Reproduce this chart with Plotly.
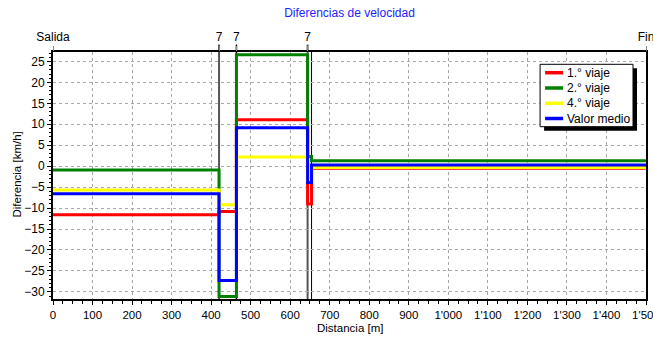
import plotly.graph_objects as go

# ---- data ----
breaks = [0, 420, 464, 644, 654, 1500]
viaje1 = [-11.6, -10.8, 11.1, -9.0, -0.5]
viaje2 = [-0.9, -31.1, 26.6, 2.3, 1.3]
viaje4 = [-5.7, -9.2, 2.2, -3.5, -0.3]
medio = [-6.6, -27.3, 9.2, -3.9, 0.3]
series_names = ["1.° viaje", "2.° viaje", "4.° viaje", "Valor medio"]
series_values = [viaje1, viaje2, viaje4, medio]
colors = ["#ff0000", "#008000", "#ffff00", "#0000ff"]

x_tickvals = list(range(0, 1501, 100))
x_ticktext = ["0", "100", "200", "300", "400", "500", "600", "700", "800", "900",
              "1'000", "1'100", "1'200", "1'300", "1'400", "1'500"]
y_tickvals = [25, 20, 15, 10, 5, 0, -5, -10, -15, -20, -25, -30]
top_tickvals = [0, 420, 464, 644, 1500]
top_ticktext = ["Salida", "7", "7", "7", "Fin"]
marker_pos = [420, 464, 644, 654]
marker_colors = ["#555555", "#000000", "#555555", "#000000"]
marker_widths = [2, 1.5, 2, 1]
marker_top = [1.03, 1.03, 1.03, 1.0]

FONT = "Liberation Sans, Arial, sans-serif"
W, H = 653, 338
L, R, T, B = 52.5, 7, 52, 39
PW, PH = W - L - R, H - T - B

fig = go.Figure()
for name, vals, col in zip(series_names, series_values, colors):
    fig.add_trace(go.Scatter(
        x=breaks, y=vals + [vals[-1]], name=name, mode="lines",
        line=dict(color=col, width=3, shape="hv"), showlegend=False,
    ))
# invisible trace to activate top axis
fig.add_trace(go.Scatter(x=[breaks[0], breaks[-1]], y=[0, 0], xaxis="x2",
                         mode="lines", line=dict(width=0), showlegend=False,
                         hoverinfo="skip"))

shapes = []
for xp, c, w, top in zip(marker_pos, marker_colors, marker_widths, marker_top):
    shapes.append(dict(type="line", xref="x", yref="paper", x0=xp, x1=xp,
                       y0=0, y1=top, line=dict(color=c, width=w), layer="between"))

# manual legend (pixel -> paper)
def px(xv):
    return (xv - L) / PW
def py(yv):
    return (H - B - yv) / PH

bx0, bx1, by0, by1 = 540, 633, 64.3, 126.7
shapes.append(dict(type="rect", xref="paper", yref="paper",
                   x0=px(bx0 + 4), x1=px(bx1 + 4), y0=py(by1 + 4), y1=py(by0 + 4),
                   fillcolor="black", line=dict(width=0), layer="above"))
shapes.append(dict(type="rect", xref="paper", yref="paper",
                   x0=px(bx0), x1=px(bx1), y0=py(by1), y1=py(by0),
                   fillcolor="white", line=dict(color="black", width=1), layer="above"))
annotations = []
row_y = [72.7, 88.0, 103.3, 118.5]
for name, col, ry in zip(series_names, colors, row_y):
    shapes.append(dict(type="line", xref="paper", yref="paper",
                       x0=px(545), x1=px(563), y0=py(ry), y1=py(ry),
                       line=dict(color=col, width=3.5), layer="above"))
    annotations.append(dict(xref="paper", yref="paper", x=px(565), y=py(ry),
                            text=name, showarrow=False, xanchor="left",
                            yanchor="middle", font=dict(family=FONT, size=12, color="black")))

# axis titles
annotations.append(dict(xref="paper", yref="paper", x=0.5, y=py(328),
                        text="Distancia [m]", showarrow=False, xanchor="center",
                        yanchor="middle", font=dict(family=FONT, size=11.5, color="black")))
annotations.append(dict(xref="paper", yref="paper", x=px(16), y=py(175),
                        text="Diferencia [km/h]", showarrow=False, textangle=-90,
                        xanchor="center", yanchor="middle",
                        font=dict(family=FONT, size=11.5, color="black")))

fig.update_layout(
    width=W, height=H,
    margin=dict(l=L, r=R, t=T, b=B, pad=0, autoexpand=False),
    paper_bgcolor="white", plot_bgcolor="white",
    font=dict(family=FONT, size=11.5, color="black"),
    title=dict(text="Diferencias de velocidad", x=0.5, xref="paper", xanchor="center",
               y=1 - 13 / H, yref="container", yanchor="middle",
               font=dict(family=FONT, size=12, color="#2222ff")),
    shapes=shapes, annotations=annotations,
    xaxis=dict(range=[0, 1500], tickvals=x_tickvals, ticktext=x_ticktext,
               ticks="outside", ticklen=4, tickcolor="black", tickwidth=1,
               minor=dict(dtick=25, ticks="outside", ticklen=3, tickcolor="black", showgrid=False),
               showline=True, linecolor="black", linewidth=2, mirror=True,
               showgrid=True, gridcolor="#a8a8a8", griddash="dot", gridwidth=1,
               zeroline=False, automargin=False, tickfont=dict(size=11.5),
               ticklabeloverflow="allow"),
    xaxis2=dict(range=[0, 1500], overlaying="x", side="top",
                tickvals=top_tickvals, ticktext=top_ticktext,
                ticks="outside", ticklen=5, tickcolor="#888888",
                showgrid=False, zeroline=False, showline=False, automargin=False,
                tickfont=dict(size=12), ticklabeloverflow="allow"),
    yaxis=dict(range=[-31.7, 27.25], tickvals=y_tickvals,
               ticks="outside", ticklen=4, tickcolor="black",
               minor=dict(dtick=1, ticks="outside", ticklen=2, tickcolor="black", showgrid=False),
               showline=True, linecolor="black", linewidth=2, mirror=True,
               showgrid=True, gridcolor="#a8a8a8", griddash="dot", gridwidth=1,
               zeroline=False, automargin=False, tickfont=dict(size=12)),
)

fig.write_html("out.html", config={"displayModeBar": False},
               post_script="document.body.style.margin='0';")
